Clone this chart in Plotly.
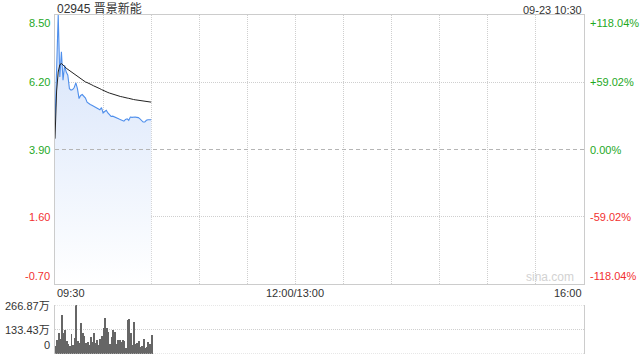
import plotly.graph_objects as go

# ---------------- data ----------------
minutes = list(range(61))  # minutes since 09:30
price = [4.78, 6.90, 8.50, 6.38, 7.24, 6.27, 6.78, 6.55, 6.44, 5.98,
         5.93, 5.95, 6.02, 6.18, 5.98, 5.64, 5.75, 5.78, 5.70, 5.66,
         5.52, 5.47, 5.44, 5.41, 5.38, 5.36, 5.33, 5.30, 5.26, 5.33,
         5.15, 5.20, 5.24, 5.15, 5.10, 5.03, 5.04, 5.01, 4.98, 4.95,
         4.94, 4.92, 4.90, 4.87, 4.93, 4.95, 4.90, 5.01, 5.00, 5.01,
         5.01, 5.00, 4.99, 4.95, 4.88, 4.84, 4.84, 4.90, 4.92, 4.92,
         4.92]
avg_price = [4.27, 5.90, 6.55, 6.80, 6.84, 6.80, 6.74, 6.68, 6.64, 6.59,
             6.55, 6.50, 6.46, 6.42, 6.38, 6.35, 6.31, 6.27, 6.24, 6.21,
             6.19, 6.17, 6.14, 6.11, 6.08, 6.06, 6.03, 6.00, 5.98, 5.95,
             5.92, 5.90, 5.87, 5.85, 5.83, 5.81, 5.79, 5.77, 5.75, 5.74,
             5.72, 5.71, 5.70, 5.68, 5.67, 5.66, 5.65, 5.63, 5.62, 5.61,
             5.60, 5.59, 5.58, 5.57, 5.56, 5.55, 5.54, 5.53, 5.53, 5.52,
             5.52]
volume = [44, 76, 116, 80, 213, 113, 131, 73, 53, 44,
          109, 49, 85, 267, 73, 58, 171, 116, 98, 62,
          67, 49, 91, 67, 113, 58, 76, 49, 80, 98,
          140, 195, 140, 118, 55, 95, 131, 122, 55, 76,
          76, 67, 76, 73, 31, 185, 189, 113, 49, 176,
          55, 62, 73, 40, 44, 80, 31, 40, 67, 55,
          104]  # 万股
prev_close = 3.90
price_ticks = [8.50, 6.20, 3.90, 1.60, -0.70]
pct_labels = ["+118.04%", "+59.02%", "0.00%", "-59.02%", "-118.04%"]
vol_ticks = [0, 133.43, 266.87]
vol_labels = ["0", "133.43万", "266.87万"]
time_ticks = [0, 150, 330]
time_labels = ["09:30", "12:00/13:00", "16:00"]
grid_minutes = [30, 60, 90, 120, 150, 180, 210, 240, 270, 300]
session_len = 330
title = "02945 晋景新能"
stamp = "09-23 10:30"

# ---------------- style ----------------
FONT = "Liberation Sans, Arial, Noto Sans CJK SC, sans-serif"
GREEN = "#1ea81e"
RED = "#f23030"
TXT = "#333333"
GRID = "#cfcfcf"
BORDER = "#cccccc"
DOT = "1px,1px"

ymin, ymax = min(price_ticks), max(price_ticks)

fig = go.Figure()
fig.add_trace(go.Scatter(x=minutes, y=[ymin] * len(minutes), mode="lines",
                         line=dict(width=0), hoverinfo="skip", showlegend=False))
fig.add_trace(go.Scatter(x=minutes, y=price, mode="lines",
                         line=dict(color="#4f8fec", width=1.1),
                         fill="tonexty",
                         fillgradient=dict(type="vertical", start=ymin, stop=ymax,
                                           colorscale=[[0, "rgb(255,255,255)"],
                                                       [1, "rgb(212,226,250)"]]),
                         showlegend=False))
fig.add_trace(go.Scatter(x=minutes, y=avg_price, mode="lines",
                         line=dict(color="#222222", width=1), showlegend=False))
fig.add_trace(go.Bar(x=minutes, y=volume, xaxis="x2", yaxis="y2",
                     marker=dict(color="#666666", line=dict(width=0)),
                     width=0.6, offset=0, showlegend=False))

main_bottom = (354 - 284) / 339
vol_top = (354 - 305) / 339

fig.update_layout(
    width=640, height=360,
    margin=dict(l=55, r=56, t=15, b=6),
    paper_bgcolor="white", plot_bgcolor="white",
    font=dict(family=FONT, size=11, color=TXT),
    bargap=0,
    xaxis=dict(domain=[0, 1], range=[0, session_len], anchor="y",
               tickvals=grid_minutes, showticklabels=False, ticks="",
               showgrid=True, gridcolor=GRID, griddash=DOT, gridwidth=1,
               showline=True, mirror=True, linecolor=BORDER, zeroline=False),
    yaxis=dict(domain=[main_bottom, 1], range=[ymin, ymax],
               tickvals=[price_ticks[1], price_ticks[3]], showticklabels=False, ticks="",
               showgrid=True, gridcolor=GRID, griddash=DOT, gridwidth=1,
               showline=True, mirror=True, linecolor=BORDER, zeroline=False),
    xaxis2=dict(domain=[0, 1], range=[0, session_len], anchor="y2",
                showgrid=False, showticklabels=False, ticks="",
                showline=False, zeroline=False),
    yaxis2=dict(domain=[0, vol_top], range=[vol_ticks[0], vol_ticks[-1]], anchor="x2",
                tickvals=vol_ticks, showticklabels=False, ticks="",
                showgrid=True, gridcolor=GRID, griddash=DOT, gridwidth=1,
                showline=True, mirror=True, linecolor=BORDER, zeroline=False),
)

shapes = [dict(type="line", xref="x", yref="y", x0=0, x1=session_len,
               y0=prev_close, y1=prev_close,
               line=dict(color="#b5b5b5", width=1, dash="4px,3px")),
          dict(type="line", xref="x2", yref="y2", x0=0, x1=session_len,
               y0=vol_ticks[-1], y1=vol_ticks[-1],
               line=dict(color=GRID, width=1, dash=DOT)),
          dict(type="line", xref="x2", yref="y2", x0=0, x1=session_len,
               y0=vol_ticks[0], y1=vol_ticks[0],
               line=dict(color=GRID, width=1, dash=DOT))]
fig.update_layout(shapes=shapes)

ann = []
n = len(price_ticks)
for i, (v, pl) in enumerate(zip(price_ticks, pct_labels)):
    col = GREEN if v >= prev_close else RED
    ya = "top" if i == 0 else ("bottom" if i == n - 1 else "middle")
    ann.append(dict(xref="paper", yref="y", x=0, y=v, xanchor="right", yanchor=ya,
                    xshift=-3, text=f"{v:.2f}", showarrow=False,
                    font=dict(color=col, size=11, family=FONT)))
    ann.append(dict(xref="paper", yref="y", x=1, y=v, xanchor="left", yanchor=ya,
                    xshift=4, text=pl, showarrow=False,
                    font=dict(color=col, size=11, family=FONT)))
for i, (v, lab) in enumerate(zip(vol_ticks, vol_labels)):
    ya = "bottom" if i == 0 else "middle"
    ann.append(dict(xref="paper", yref="y2", x=0, y=v, xanchor="right", yanchor=ya,
                    xshift=-3, yshift=(1 if i == 0 else (-1 if i == 2 else 0)),
                    text=lab, showarrow=False,
                    font=dict(color=TXT, size=11, family=FONT)))
for i, (t, lab) in enumerate(zip(time_ticks, time_labels)):
    xa = "left" if i == 0 else ("right" if i == len(time_ticks) - 1 else "center")
    ann.append(dict(xref="x", yref="y", x=t, y=ymin, xanchor=xa, yanchor="top",
                    yshift=-1, text=lab, showarrow=False,
                    font=dict(color=TXT, size=11, family=FONT)))
ann.append(dict(xref="paper", yref="paper", x=0, y=1, xanchor="left", yanchor="bottom",
                yshift=-3, text=title, showarrow=False,
                font=dict(color=TXT, size=12, family=FONT)))
ann.append(dict(xref="paper", yref="paper", x=1, y=1, xanchor="right", yanchor="bottom",
                yshift=-3, text=stamp, showarrow=False,
                font=dict(color=TXT, size=11, family=FONT)))
ann.append(dict(xref="paper", yref="y", x=1, y=ymin, xanchor="right", yanchor="bottom",
                xshift=-8, yshift=-2, text="sina.com", showarrow=False,
                font=dict(color="#d2d2d2", size=12, family=FONT)))
fig.update_layout(annotations=ann)

fig.write_html("out.html")
